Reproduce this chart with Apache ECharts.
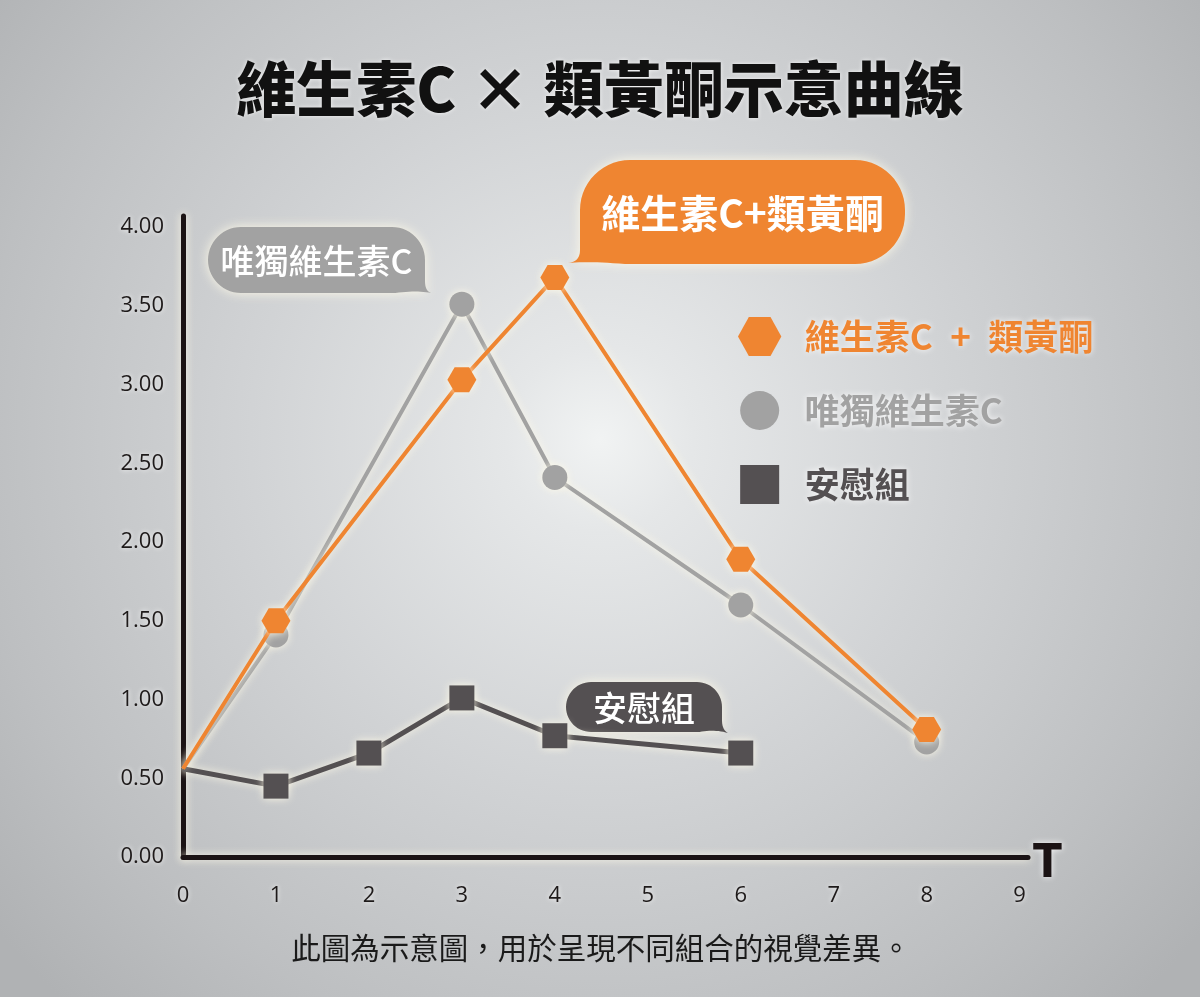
<!DOCTYPE html>
<html>
<head>
<meta charset="utf-8">
<script src="https://cdn.jsdelivr.net/npm/echarts@6/dist/echarts.min.js"></script>
<style>
html,body{margin:0;padding:0;width:1200px;height:997px;overflow:hidden;}
#chart{width:1200px;height:997px;}
</style>
</head>
<body>
<div id="chart"></div>
<script>
// ---- data ----
const seriesNames = ['維生素C + 類黃酮', '唯獨維生素C', '安慰組'];
const comboT = [0, 1, 3, 4, 6, 8];
const comboV = [0.56, 1.50, 3.03, 3.68, 1.89, 0.81];
const vitcT = [0, 1, 3, 4, 6, 8];
const vitcV = [0.56, 1.41, 3.51, 2.41, 1.60, 0.73];
const placeboT = [0, 1, 2, 3, 4, 6];
const placeboV = [0.56, 0.45, 0.66, 1.01, 0.77, 0.66];
const bubbleTexts = ['唯獨維生素C', '維生素C+類黃酮', '安慰組'];
const titleText = '維生素C × 類黃酮示意曲線';
const footText = '此圖為示意圖，用於呈現不同組合的視覺差異。';
const xAxisName = 'T';

// ---- styles ----
const ORANGE = '#ef8531', GRAY = '#a2a2a2', DARK = '#545052', AXIS = '#1b1314';
const GLOW = 'rgba(255,251,232,0.95)';
const CJK = '"Noto Sans CJK TC","Noto Sans CJK SC",sans-serif';
const HEX = 'path://M0,45 L25,0 L75,0 L100,45 L75,90 L25,90 Z';
const SQR = 'path://M0,0 L100,0 L100,100 L0,100 Z';

function build(ts, vs) {
  return ts.map((t, i) => i === 0 ? { value: [t, vs[i]], symbol: 'none' } : [t, vs[i]]);
}

// outline points of a speech bubble (rounded rect + tail)
function arcPts(pts, cx, cy, r, a0, a1) {
  const n = 14;
  for (let i = 0; i <= n; i++) {
    const a = (a0 + (a1 - a0) * i / n) * Math.PI / 180;
    pts.push([cx + r * Math.cos(a), cy + r * Math.sin(a)]);
  }
}
function quadPts(pts, p0, c, p1) {
  const n = 12;
  for (let i = 1; i <= n; i++) {
    const t = i / n, u = 1 - t;
    pts.push([u * u * p0[0] + 2 * u * t * c[0] + t * t * p1[0],
              u * u * p0[1] + 2 * u * t * c[1] + t * t * p1[1]]);
  }
}
function bubblePts(x, y, w, h, r, side, tx, ty) {
  const pts = [];
  arcPts(pts, x + r, y + r, r, 180, 270);
  arcPts(pts, x + w - r, y + r, r, -90, 0);
  if (side === 'br') {
    const p0 = [x + w, y + h - 12];
    pts.push(p0);
    quadPts(pts, p0, [x + w, y + h - 2], [tx, ty]);
    quadPts(pts, [tx, ty], [x + w - 8, y + h - 3], [x + w - r * 0.9, y + h]);
    arcPts(pts, x + r, y + h - r, r, 90, 180);
  } else {
    arcPts(pts, x + w - r, y + h - r, r, 0, 90);
    const p0 = [x + r * 0.9, y + h];
    pts.push(p0);
    quadPts(pts, p0, [x + 8, y + h - 3], [tx, ty]);
    quadPts(pts, [tx, ty], [x, y + h - 2], [x, y + h - 14]);
  }
  return pts;
}

function bubble(x, y, w, h, r, side, tx, ty, color, text, fs, fw) {
  return {
    type: 'group',
    z: 50,
    children: [
      { type: 'polygon', shape: { points: bubblePts(x, y, w, h, r, side, tx, ty) },
        style: { fill: color, shadowBlur: 12, shadowColor: GLOW } },
      { type: 'text', x: x + w / 2, y: y + h / 2 + 1,
        style: { text: text, fill: '#ffffff', fontSize: fs, fontWeight: fw, fontFamily: CJK,
                 align: 'center', verticalAlign: 'middle' } }
    ]
  };
}

const chart = echarts.init(document.getElementById('chart'));
const option = {
  backgroundColor: {
    type: 'radial', x: 0.5, y: 0.44, r: 0.78,
    colorStops: [
      { offset: 0, color: '#f1f3f3' },
      { offset: 0.12, color: '#e5e7e8' },
      { offset: 0.45, color: '#d1d3d5' },
      { offset: 0.8, color: '#bdbfc1' },
      { offset: 1, color: '#b0b2b4' }
    ]
  },
  animation: false,
  title: {
    text: titleText,
    left: 'center',
    top: 54,
    textStyle: { fontSize: 60, fontWeight: 900, fontFamily: CJK, color: '#111111',
                 textShadowColor: 'rgba(255,255,255,0.8)', textShadowBlur: 4 }
  },
  legend: {
    orient: 'vertical',
    left: 733,
    top: 312,
    itemWidth: 80,
    itemHeight: 39,
    itemGap: 35,
    selectedMode: false,
    formatter: n => n.replace(' + ', '\u2002+\u2002'),
    textStyle: { fontSize: 35, fontWeight: 'bold', fontFamily: CJK,
                 textShadowColor: 'rgba(255,255,255,0.9)', textShadowBlur: 6 },
    data: [
      { name: seriesNames[0], icon: HEX, textStyle: { color: ORANGE } },
      { name: seriesNames[1], icon: 'circle', textStyle: { color: GRAY } },
      { name: seriesNames[2], icon: SQR, textStyle: { color: DARK } }
    ]
  },
  grid: { left: 183, right: 172, top: 216, bottom: 140 },
  xAxis: {
    type: 'value', min: 0, max: 9.09, interval: 1,
    name: xAxisName, nameLocation: 'end', nameGap: 5,
    nameTextStyle: { fontSize: 47, fontWeight: 'bold', lineHeight: 16,
                     fontFamily: '"Liberation Sans Narrow","DejaVu Sans Condensed",sans-serif',
                     color: AXIS, verticalAlign: 'top',
                     textShadowColor: 'rgba(255,255,255,0.9)', textShadowBlur: 6 },
    axisLine: { show: true, onZero: true, lineStyle: { color: AXIS, width: 5, shadowBlur: 8, shadowColor: GLOW } },
    axisTick: { show: false },
    splitLine: { show: false },
    axisLabel: {
      show: true, margin: 28, fontSize: 22, fontFamily: '"Open Sans",sans-serif', color: '#1e1a1a',
      textShadowColor: 'rgba(255,255,255,0.9)', textShadowBlur: 5,
      showMaxLabel: false,
      formatter: v => (Math.abs(v - Math.round(v)) < 1e-6 ? String(Math.round(v)) : '')
    }
  },
  yAxis: {
    type: 'value', min: 0, max: 4.07, interval: 0.5,
    axisLine: { show: true, lineStyle: { color: AXIS, width: 5, shadowBlur: 8, shadowColor: GLOW } },
    axisTick: { show: false },
    splitLine: { show: false },
    axisLabel: {
      show: true, margin: 19, fontSize: 22, fontFamily: '"Open Sans",sans-serif', color: '#1e1a1a',
      textShadowColor: 'rgba(255,255,255,0.9)', textShadowBlur: 5,
      showMaxLabel: false,
      formatter: v => (Math.abs(v * 2 - Math.round(v * 2)) < 1e-6 ? v.toFixed(2) : '')
    }
  },
  series: [
    {
      name: seriesNames[1], type: 'line', data: build(vitcT, vitcV),
      symbol: 'circle', symbolSize: 25, z: 3,
      lineStyle: { color: GRAY, width: 4, shadowBlur: 9, shadowColor: GLOW },
      itemStyle: { color: GRAY, shadowBlur: 9, shadowColor: GLOW }
    },
    {
      name: seriesNames[0], type: 'line', data: build(comboT, comboV),
      symbol: HEX, symbolSize: [29, 25], symbolKeepAspect: false, z: 4,
      lineStyle: { color: ORANGE, width: 4, shadowBlur: 9, shadowColor: GLOW },
      itemStyle: { color: ORANGE, shadowBlur: 9, shadowColor: GLOW }
    },
    {
      name: seriesNames[2], type: 'line', data: build(placeboT, placeboV),
      symbol: SQR, symbolSize: 25, z: 3,
      lineStyle: { color: DARK, width: 5, shadowBlur: 9, shadowColor: GLOW },
      itemStyle: { color: DARK, shadowBlur: 9, shadowColor: GLOW }
    }
  ],
  graphic: [
    bubble(208, 227, 217, 66, 33, 'br', 431, 293, GRAY, bubbleTexts[0], 34, 500),
    bubble(580, 160, 325, 104, 50, 'bl', 568, 263, ORANGE, bubbleTexts[1], 39, 'bold'),
    bubble(566, 682, 156, 50, 25, 'br', 728, 733, DARK, bubbleTexts[2], 34, 500),
    {
      type: 'text', x: 601, y: 948, z: 50,
      style: { text: footText, fill: '#1a1a1a', fontSize: 29.5, fontFamily: CJK,
               align: 'center', verticalAlign: 'middle' }
    }
  ]
};
chart.setOption(option);
</script>
</body>
</html>
